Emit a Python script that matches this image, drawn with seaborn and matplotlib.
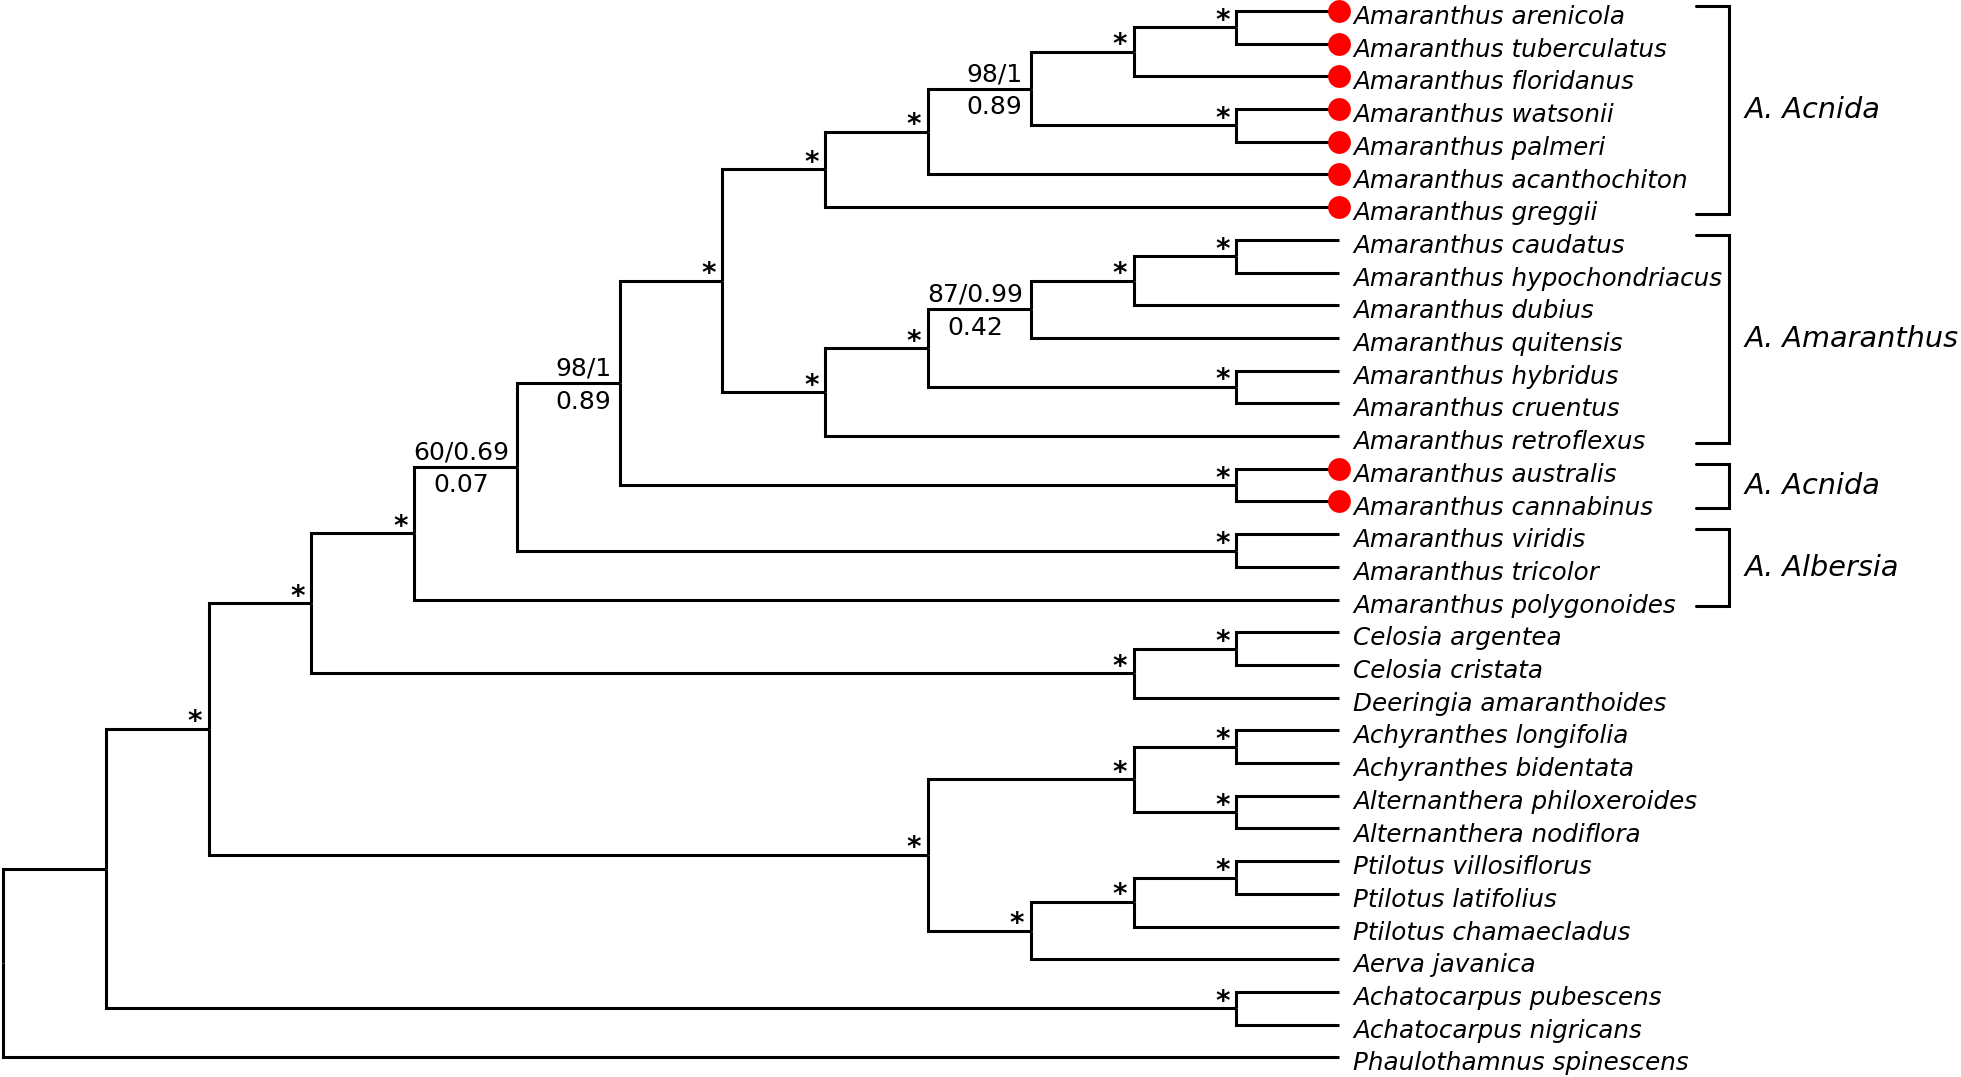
import numpy as np
import pandas as pd
import matplotlib
matplotlib.use("Agg")
import matplotlib.pyplot as plt
import seaborn as sns

# taxa in plotting order (top to bottom)
taxa = ["Amaranthus arenicola", "Amaranthus tuberculatus", "Amaranthus floridanus",
        "Amaranthus watsonii", "Amaranthus palmeri", "Amaranthus acanthochiton",
        "Amaranthus greggii", "Amaranthus caudatus", "Amaranthus hypochondriacus",
        "Amaranthus dubius", "Amaranthus quitensis", "Amaranthus hybridus",
        "Amaranthus cruentus", "Amaranthus retroflexus", "Amaranthus australis",
        "Amaranthus cannabinus", "Amaranthus viridis", "Amaranthus tricolor",
        "Amaranthus polygonoides", "Celosia argentea", "Celosia cristata",
        "Deeringia amaranthoides", "Achyranthes longifolia", "Achyranthes bidentata",
        "Alternanthera philoxeroides", "Alternanthera nodiflora", "Ptilotus villosiflorus",
        "Ptilotus latifolius", "Ptilotus chamaecladus", "Aerva javanica",
        "Achatocarpus pubescens", "Achatocarpus nigricans", "Phaulothamnus spinescens"]

# taxa marked with a red dot
dioecious = [0, 1, 2, 3, 4, 5, 6, 14, 15]

# tree topology: each merge joins two clades (taxon index or earlier merge "c<k>")
merges = [(0, 1), ("c0", 2), (3, 4), ("c1", "c2"), ("c3", 5), ("c4", 6),
          (7, 8), ("c6", 9), ("c7", 10), (11, 12), ("c8", "c9"), ("c10", 13),
          ("c5", "c11"), (14, 15), ("c12", "c13"), (16, 17), ("c14", "c15"),
          ("c16", 18), (19, 20), ("c18", 21), ("c17", "c19"), (22, 23), (24, 25),
          ("c21", "c22"), (26, 27), ("c24", 28), ("c25", 29), ("c23", "c26"),
          ("c20", "c27"), (30, 31), ("c28", "c29"), ("c30", 32)]

# support per merge ("*" = full support, "top|bottom" = two values, "" = none)
support = ["*", "*", "*", "98/1|0.89", "*", "*",
           "*", "*", "87/0.99|0.42", "*", "*", "*",
           "*", "*", "98/1|0.89", "*", "60/0.69|0.07",
           "*", "*", "*", "*", "*", "*",
           "*", "*", "*", "*", "*",
           "*", "*", "", ""]

# section brackets: name, first taxon, last taxon
groups = [("A. Acnida", 0, 6), ("A. Amaranthus", 7, 13),
          ("A. Acnida", 14, 15), ("A. Albersia", 16, 18)]

# layout: cladogram with all tips aligned
height, ypos = {}, {}
for i in range(len(taxa)):
    height[i] = 0
    ypos[i] = float(i)
for k, (a, b) in enumerate(merges):
    key = f"c{k}"
    height[key] = max(height[a], height[b]) + 1
    ypos[key] = (ypos[a] + ypos[b]) / 2
tip = height[f"c{len(merges) - 1}"]
xpos = {k: tip - h for k, h in height.items()}

rows = []
seg = 0
for k, (a, b) in enumerate(merges):
    key = f"c{k}"
    px, py = xpos[key], ypos[key]
    for c in (a, b):
        for j, (x, y) in enumerate([(px, py), (px, ypos[c]), (xpos[c], ypos[c])]):
            rows.append({"seg": seg, "o": j, "x": x, "y": y})
        seg += 1
segs = pd.DataFrame(rows)

sns.set_theme(style="white")
plt.rcParams["font.family"] = ["DejaVu Sans"]
plt.rcParams["text.color"] = "black"

fig = plt.figure(figsize=(19.61, 10.77), dpi=100)
ax = fig.add_axes([0, 0, 1, 1])
ax.set_xlim(-0.029, 19.05)
ax.set_ylim(32.6, -0.336)
ax.axis("off")

sns.lineplot(data=segs, x="x", y="y", units="seg", estimator=None, sort=False,
             color="black", lw=2.2, legend=False, ax=ax,
             solid_joinstyle="miter", solid_capstyle="butt")

dots = pd.DataFrame({"x": [tip] * len(dioecious), "y": dioecious})
sns.scatterplot(data=dots, x="x", y="y", color="#ff0000", s=270, linewidth=0,
                zorder=3, legend=False, ax=ax)

for i, name in enumerate(taxa):
    ax.annotate(name, (tip, i), xytext=(10, -9.4), textcoords="offset points",
                ha="left", va="baseline", fontsize=17.7, style="italic")

for k, lab in enumerate(support):
    key = f"c{k}"
    x, y = xpos[key], ypos[key]
    if lab == "*":
        ax.annotate("*", (x, y), xytext=(-10, -1.0), textcoords="offset points",
                    ha="center", va="baseline", fontsize=20, fontweight="bold")
    elif lab:
        t, b = lab.split("|")
        top = ax.annotate(t, (x, y), xytext=(-5.8, 10.4), textcoords="offset points",
                          ha="right", va="center", fontsize=18)
        ax.annotate(b, xy=(0.5, 0.5), xycoords=top, xytext=(0, -23.8),
                    textcoords="offset points", ha="center", va="center", fontsize=18)

bx0, bx1 = tip + 3.47, tip + 3.79
for name, first, last in groups:
    y0, y1 = first - 0.15, last + 0.2
    ax.plot([bx0, bx1, bx1, bx0], [y0, y0, y1, y1], color="black", lw=2.2,
            solid_joinstyle="miter")
    ax.annotate(name, (bx1, (y0 + y1) / 2), xytext=(11.5, 0), textcoords="offset points",
                ha="left", va="center", fontsize=20.7, style="italic")

fig.savefig("out.png", dpi=100, facecolor="white")
